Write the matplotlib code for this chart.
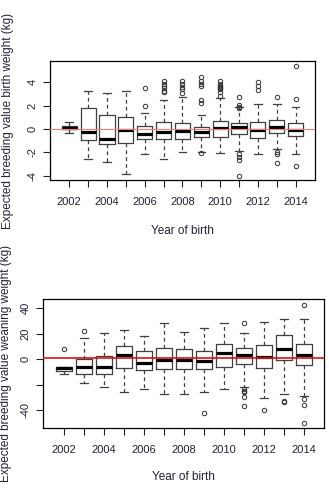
import numpy as np
import matplotlib.pyplot as plt

plt.rcParams['font.family'] = ['Liberation Sans', 'DejaVu Sans']

years = list(range(2002, 2015))
year_labels = ['2002', '', '2004', '', '2006', '', '2008', '', '2010', '', '2012', '', '2014']

# birth weight (kg)
bw_med = [0.10, -0.26, -0.89, -0.09, -0.40, -0.26, -0.17, -0.26, 0.06, 0.17, -0.06, 0.17, -0.09]
bw_q1 = [0.00, -0.94, -1.31, -1.23, -0.86, -0.86, -0.86, -0.71, -0.69, -0.46, -0.74, -0.34, -0.60]
bw_q3 = [0.26, 1.77, 1.17, 1.00, 0.23, 0.57, 0.49, 0.20, 0.66, 0.49, 0.57, 0.77, 0.49]
bw_lo = [-0.35, -2.60, -2.86, -3.86, -2.14, -2.60, -1.94, -1.94, -2.09, -1.86, -2.17, -1.74, -2.17]
bw_hi = [0.60, 3.26, 3.06, 3.26, 1.34, 2.49, 2.71, 1.17, 2.69, 1.91, 2.11, 2.11, 1.86]
bw_out = [[], [], [], [],
          [1.94, 3.54],
          [3.17, 3.30, 3.50, 3.70, 3.90, 4.11],
          [3.10, 3.40, 3.60, 3.90, 4.11],
          [-2.09, 2.20, 2.49, 3.69, 3.83, 4.10, 4.49],
          [2.83, 3.20, 3.40, 3.50, 3.60, 3.70, 3.90, 4.10],
          [-4.00, -2.66, -2.37, -2.17, 1.80, 1.90, 2.06, 2.77],
          [3.34, 3.69, 4.00],
          [-2.94, -2.14, -1.94, 2.77],
          [-3.17, 2.57, 5.43]]

# weaning weight (kg)
ww_med = [-7.3, -6.0, -6.5, 3.4, -3.1, -0.5, -0.5, -1.3, 4.7, 3.4, 1.8, 7.8, 3.4]
ww_q1 = [-9.7, -12.0, -12.0, -7.0, -8.9, -8.1, -8.1, -8.1, -6.0, -3.9, -7.3, -0.8, -4.7]
ww_q3 = [-6.0, 0.0, 2.6, 9.9, 6.5, 8.9, 7.6, 6.5, 11.7, 8.4, 11.0, 18.8, 11.7]
ww_lo = [-12.0, -19.1, -22.2, -25.8, -23.8, -27.7, -27.7, -25.8, -23.5, -22.2, -30.8, -27.7, -28.7]
ww_hi = [-6.0, 16.7, 20.6, 23.2, 17.8, 28.5, 21.4, 24.0, 28.5, 20.6, 29.2, 31.6, 31.6]
ww_out = [[7.8], [21.7], [], [], [], [], [],
          [-42.0],
          [],
          [-36.5, -30.0, -26.0, -25.0, -23.5, 28.5],
          [-39.7],
          [-34.0, -32.6],
          [-50.1, -35.8, -31.3, 42.8]]


def panel(ax, med, q1, q3, lo, hi, out, ref, refcol, reflw, yticks, ylabels, ylabel, ylim, ylab_x, xlab_y):
    stats = []
    for i in range(len(years)):
        stats.append(dict(med=med[i], q1=q1[i], q3=q3[i], whislo=lo[i], whishi=hi[i], fliers=out[i]))
    pos = np.arange(1, len(years) + 1)
    ax.bxp(stats, positions=pos, widths=0.8, capwidths=0.4,
           boxprops=dict(color='#404040', lw=0.9),
           whiskerprops=dict(color='#404040', lw=0.9, linestyle=(0, (3, 2.5))),
           capprops=dict(color='#404040', lw=0.9),
           medianprops=dict(color='black', lw=2.3, solid_capstyle='butt'),
           flierprops=dict(marker='o', markerfacecolor='none', markeredgecolor='#333333',
                           markersize=3.2, markeredgewidth=0.7))
    ax.axhline(ref, color=refcol, lw=reflw, zorder=5)
    ax.set_xlim(-0.02, 14.02)
    ax.set_ylim(*ylim)
    ax.set_xticks(pos)
    ax.set_xticklabels(year_labels, fontsize=8, color='#222233')
    ax.set_yticks(yticks)
    ax.set_yticklabels(ylabels, fontsize=8, color='#222233', rotation=90, va='center')
    ax.tick_params(axis='x', length=5, width=0.8, color='#222222', pad=7)
    ax.tick_params(axis='y', length=5, width=0.8, color='#222222', pad=4)
    ax.set_xlabel('Year of birth', fontsize=8.5, color='#222233')
    ax.set_ylabel(ylabel, fontsize=8.5, color='#222233')
    ax.yaxis.set_label_coords(ylab_x, 0.5)
    ax.xaxis.set_label_coords(0.5, xlab_y)
    for s in ax.spines.values():
        s.set_linewidth(0.9)
        s.set_color('black')


fig = plt.figure(figsize=(3.29, 4.88), dpi=100)
ax1 = fig.add_axes([0.152, 0.631, 0.805, 0.244])
ax2 = fig.add_axes([0.131, 0.123, 0.854, 0.264])

panel(ax1, bw_med, bw_q1, bw_q3, bw_lo, bw_hi, bw_out, 0.0, '#f08080', 0.8,
      [-4, -2, 0, 2, 4], ['-4', '-2', '0', '2', '4'],
      'Expected breeding value birth weight (kg)', (-4.37, 5.83), -0.136, -0.378)
panel(ax2, ww_med, ww_q1, ww_q3, ww_lo, ww_hi, ww_out, 1.0, '#dd1111', 1.2,
      [-40, -20, 0, 20, 40], ['-40', '', '0', '20', '40'],
      'Expected breeding value weaning weight (kg)', (-54.0, 47.0), -0.11, -0.333)

fig.savefig('out.png', dpi=100)
